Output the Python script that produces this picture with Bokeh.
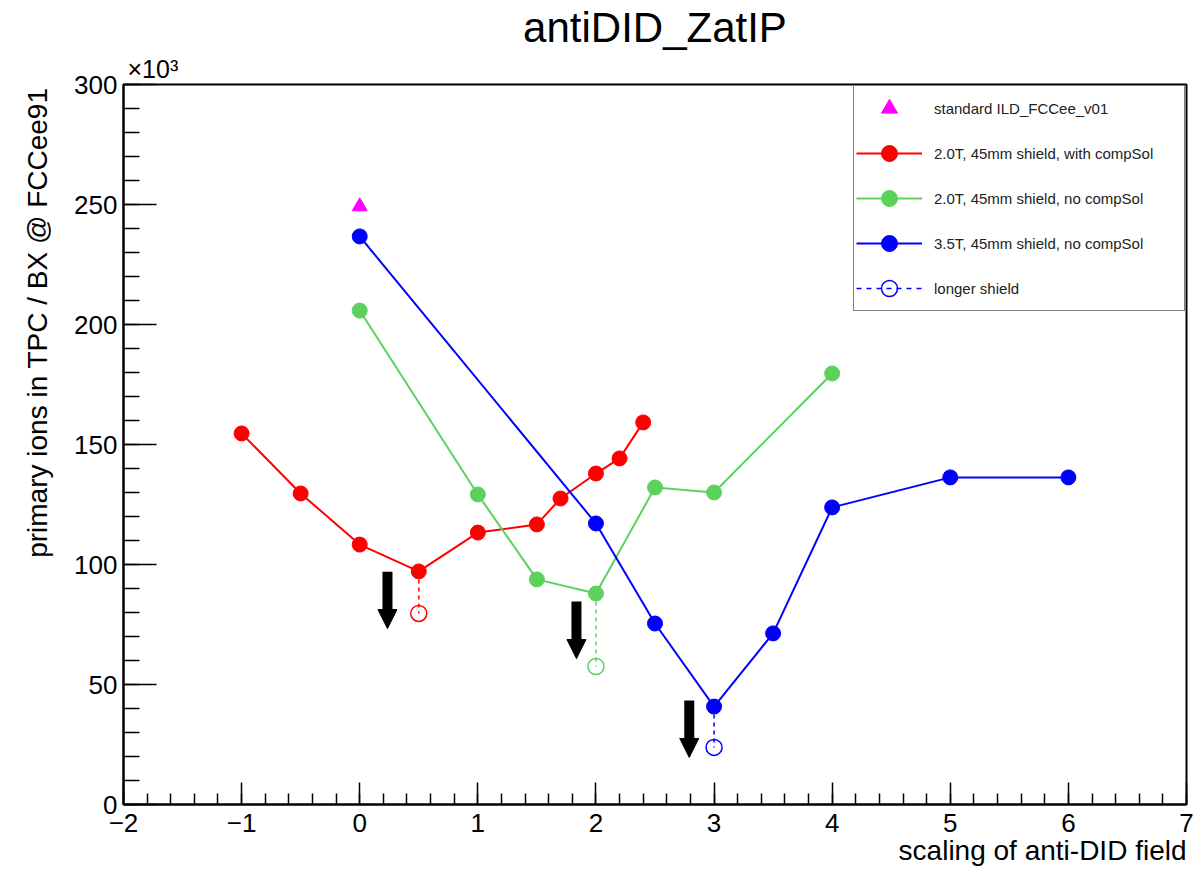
from bokeh.plotting import figure
from bokeh.models import (Arrow, NormalHead, Legend, LegendItem, SingleIntervalTicker,
                          ColumnDataSource, Range1d, Title)
from bokeh.embed import file_html
from bokeh.resources import INLINE

FONT = "Liberation Sans"

# ---- data (values in units of 10^3) ----
std_x = [0.0]
std_y = [249.2]

red_x = [-1.0, -0.5, 0.0, 0.5, 1.0, 1.5, 1.7, 2.0, 2.2, 2.4]
red_y = [154.6, 129.6, 108.3, 97.1, 113.3, 116.7, 127.5, 137.9, 144.2, 159.2]

green_x = [0.0, 1.0, 1.5, 2.0, 2.5, 3.0, 4.0]
green_y = [205.8, 129.2, 93.8, 87.9, 132.1, 130.0, 179.6]

blue_x = [0.0, 2.0, 2.5, 3.0, 3.5, 4.0, 5.0, 6.0]
blue_y = [236.7, 117.1, 75.4, 40.8, 71.3, 123.8, 136.3, 136.3]

long_x = [0.5, 2.0, 3.0]
long_base_y = [97.1, 87.9, 40.8]
long_y = [79.6, 57.5, 23.8]
long_colors = ["#ff0000", "#5cd15c", "#0000ff"]

arrow_x = [0.235, 1.835, 2.79]
arrow_top = [97.0, 84.6, 43.3]
arrow_tip = [73.3, 60.8, 19.6]

RED, GREEN, BLUE, MAGENTA = "#ff0000", "#5cd15c", "#0000ff", "#ff00ff"

p = figure(width=1200, height=869, x_range=Range1d(-2, 7), y_range=Range1d(0, 300),
           output_backend="svg", toolbar_location=None, title=None,
           min_border_left=123, min_border_right=14, min_border_top=84, min_border_bottom=65)
p.xgrid.visible = False
p.ygrid.visible = False
p.outline_line_color = "black"
p.outline_line_width = 2
p.background_fill_color = "white"
p.border_fill_color = "white"

# axes
p.xaxis.ticker = SingleIntervalTicker(interval=1, num_minor_ticks=5)
p.yaxis.ticker = SingleIntervalTicker(interval=50, num_minor_ticks=5)
p.xaxis.major_label_overrides = {-2: "\u22122", -1: "\u22121"}
for ax, tin, tmin in ((p.xaxis, 22, 11), (p.yaxis, 33, 16)):
    ax.major_tick_in = tin
    ax.major_tick_out = 0
    ax.minor_tick_in = tmin
    ax.minor_tick_out = 0
    ax.axis_line_width = 2
    ax.major_tick_line_width = 1.5
    ax.minor_tick_line_width = 1.5
    ax.axis_line_color = "black"
    ax.major_tick_line_color = "black"
    ax.minor_tick_line_color = "black"
    ax.major_label_text_font = FONT
    ax.major_label_text_font_size = "26px"
    ax.major_label_text_color = "black"
p.xaxis.major_label_standoff = 9
p.yaxis.major_label_standoff = 6

# connectors for longer shield
for x, y0, y1, c in zip(long_x, long_base_y, long_y, long_colors):
    p.line([x, x], [y0, y1], line_color=c, line_width=1.5, line_dash="4 4")
p.scatter(long_x, long_y, marker="circle", size=16, fill_color=None,
          line_color=long_colors, line_width=1.5)

# series
r_line = p.line(red_x, red_y, line_color=RED, line_width=2)
r_pts = p.scatter(red_x, red_y, marker="circle", size=15, fill_color=RED, line_color=RED)
g_line = p.line(green_x, green_y, line_color=GREEN, line_width=2)
g_pts = p.scatter(green_x, green_y, marker="circle", size=15, fill_color=GREEN, line_color=GREEN)
b_line = p.line(blue_x, blue_y, line_color=BLUE, line_width=2)
b_pts = p.scatter(blue_x, blue_y, marker="circle", size=15, fill_color=BLUE, line_color=BLUE)
s_pts = p.scatter(std_x, std_y, marker="triangle", size=15, fill_color=MAGENTA, line_color=MAGENTA)

# legend-only renderers for "longer shield"
nan = float("nan")
l_line = p.line([nan], [nan], line_color=BLUE, line_width=1.5, line_dash="5 5")
l_pts = p.scatter([nan], [nan], marker="circle", size=16, fill_color=None, line_color=BLUE, line_width=1.5)

# arrows
asrc = ColumnDataSource(dict(x=arrow_x, y0=arrow_top, y1=arrow_tip))
p.add_layout(Arrow(end=NormalHead(size=19, fill_color="black", line_color="black"),
                   x_start="x", y_start="y0", x_end="x", y_end="y1", source=asrc,
                   line_width=10, line_color="black"))

legend = Legend(items=[
    LegendItem(label="standard ILD_FCCee_v01", renderers=[s_pts]),
    LegendItem(label="2.0T, 45mm shield, with compSol", renderers=[r_line, r_pts]),
    LegendItem(label="2.0T, 45mm shield, no compSol", renderers=[g_line, g_pts]),
    LegendItem(label="3.5T, 45mm shield, no compSol", renderers=[b_line, b_pts]),
    LegendItem(label="longer shield", renderers=[l_line, l_pts]),
], location="top_right")
legend.margin = 1
legend.padding = 2
legend.spacing = 5
legend.glyph_width = 66
legend.glyph_height = 40
legend.label_height = 40
legend.label_width = 248
legend.label_standoff = 12
legend.label_text_font = FONT
legend.label_text_font_size = "15px"
legend.label_text_color = "#222222"
legend.border_line_color = "black"
legend.border_line_width = 1.5
legend.background_fill_color = "white"
legend.background_fill_alpha = 1.0
p.add_layout(legend)

# titles / axis titles
p.add_layout(Title(text="\u00d710\u00b3", align="left", offset=4, standoff=3,
                   text_font=FONT, text_font_size="25px", text_font_style="normal",
                   text_color="black"), "above")
p.add_layout(Title(text="antiDID_ZatIP", align="center", standoff=2,
                   text_font=FONT, text_font_size="42px", text_font_style="normal",
                   text_color="black"), "above")
p.add_layout(Title(text="scaling of anti-DID field", align="right", standoff=-4,
                   text_font=FONT, text_font_size="28px", text_font_style="normal",
                   text_color="black"), "below")
p.add_layout(Title(text="primary ions in TPC / BX @ FCCee91", align="right", offset=3, standoff=37,
                   text_font=FONT, text_font_size="28px", text_font_style="normal",
                   text_color="black"), "left")

open("out.html", "w").write(file_html(p, INLINE))
